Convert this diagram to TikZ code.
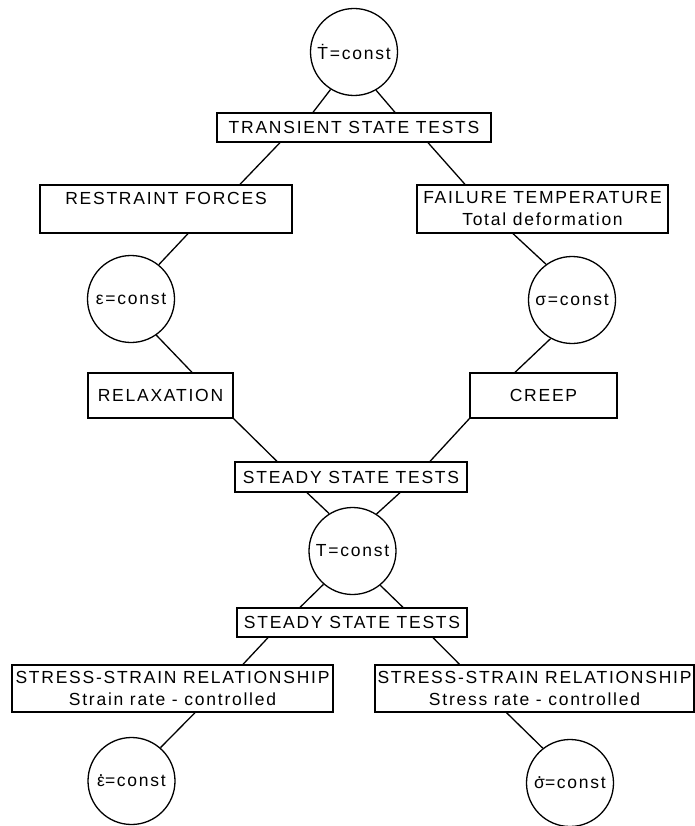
\documentclass[tikz,border=0pt]{standalone}
\usepackage{fontspec}
\setmainfont{Liberation Sans}[LetterSpace=10]
\newcommand{\overdot}[1]{\ooalign{#1\cr\hidewidth\raisebox{0.58em}{.}\hidewidth\cr}}
\begin{document}
\begin{tikzpicture}[x=1pt, y=-1pt, line width=1.3pt,
  font=\fontsize{17.5}{22}\selectfont,
  state/.style={draw, circle, minimum size=87pt, inner sep=0pt},
  test/.style={draw, rectangle, inner sep=0pt, align=center}]
\useasboundingbox (0,0) rectangle (695,826);
% transient state tests
\node[state] (tdot) at (354,52) {Ṫ=const};
\node[test, minimum width=274pt, minimum height=29pt] (transient) at (354,127.5) {TRANSIENT STATE TESTS};
\node[test, minimum width=252pt, minimum height=48pt] (restraint) at (166,209) {RESTRAINT FORCES\\\phantom{T}};
\node[test, minimum width=251pt, minimum height=48pt] (failure) at (542.5,209) {FAILURE TEMPERATURE\\Total deformation};
\node[state] (eps) at (131,299) {ε=const};
\node[state] (sig) at (572,300) {σ=const};
\node[test, minimum width=145pt, minimum height=45pt] (relax) at (160.5,395.5) {RELAXATION};
\node[test, minimum width=147pt, minimum height=45pt] (creep) at (543.5,395.5) {CREEP};
% steady state tests
\node[test, minimum width=232pt, minimum height=30pt] (steady) at (351,477) {STEADY STATE TESTS};
\node[state] (tconst) at (352.5,551) {T=const};
\node[test, minimum width=230pt, minimum height=29pt] (steadyb) at (352,622.5) {STEADY STATE TESTS};
\node[test, minimum width=321pt, minimum height=47pt] (strainrate) at (172.5,688.5) {STRESS-STRAIN RELATIONSHIP\\Strain rate - controlled};
\node[test, minimum width=319pt, minimum height=47pt] (stressrate) at (534.5,688.5) {STRESS-STRAIN RELATIONSHIP\\Stress rate - controlled};
\node[state] (epsdot) at (131.5,781) {\overdot{ε}=const};
\node[state] (sigdot) at (570,783) {\overdot{σ}=const};
% connectors
\draw (tdot.238) -- ([xshift=-41pt]transient.north);
\draw (tdot.300) -- ([xshift=41pt]transient.north);
\draw ([xshift=-74pt]transient.south) -- ([xshift=74pt]restraint.north);
\draw ([xshift=74pt]transient.south) -- ([xshift=-77.5pt]failure.north);
\draw ([xshift=22pt]restraint.south) -- (eps.51);
\draw ([xshift=-29.5pt]failure.south) -- (sig.126);
\draw (eps.305) -- ([xshift=31.5pt]relax.north);
\draw (sig.241) -- ([xshift=-28.5pt]creep.north);
\draw (relax.south east) -- ([xshift=-74pt]steady.north);
\draw (creep.south west) -- ([xshift=79pt]steady.north);
\draw ([xshift=-44pt]steady.south) -- (tconst.122);
\draw ([xshift=49pt]steady.south) -- (tconst.57);
\draw (tconst.229) -- ([xshift=-52pt]steadyb.north);
\draw (tconst.309) -- ([xshift=51pt]steadyb.north);
\draw ([xshift=-84pt]steadyb.south) -- ([xshift=70.5pt]strainrate.north);
\draw ([xshift=81pt]steadyb.south) -- ([xshift=-75pt]stressrate.north);
\draw ([xshift=22.5pt]strainrate.south) -- (epsdot.49);
\draw ([xshift=-28pt]stressrate.south) -- (sigdot.128);
\end{tikzpicture}
\end{document}
